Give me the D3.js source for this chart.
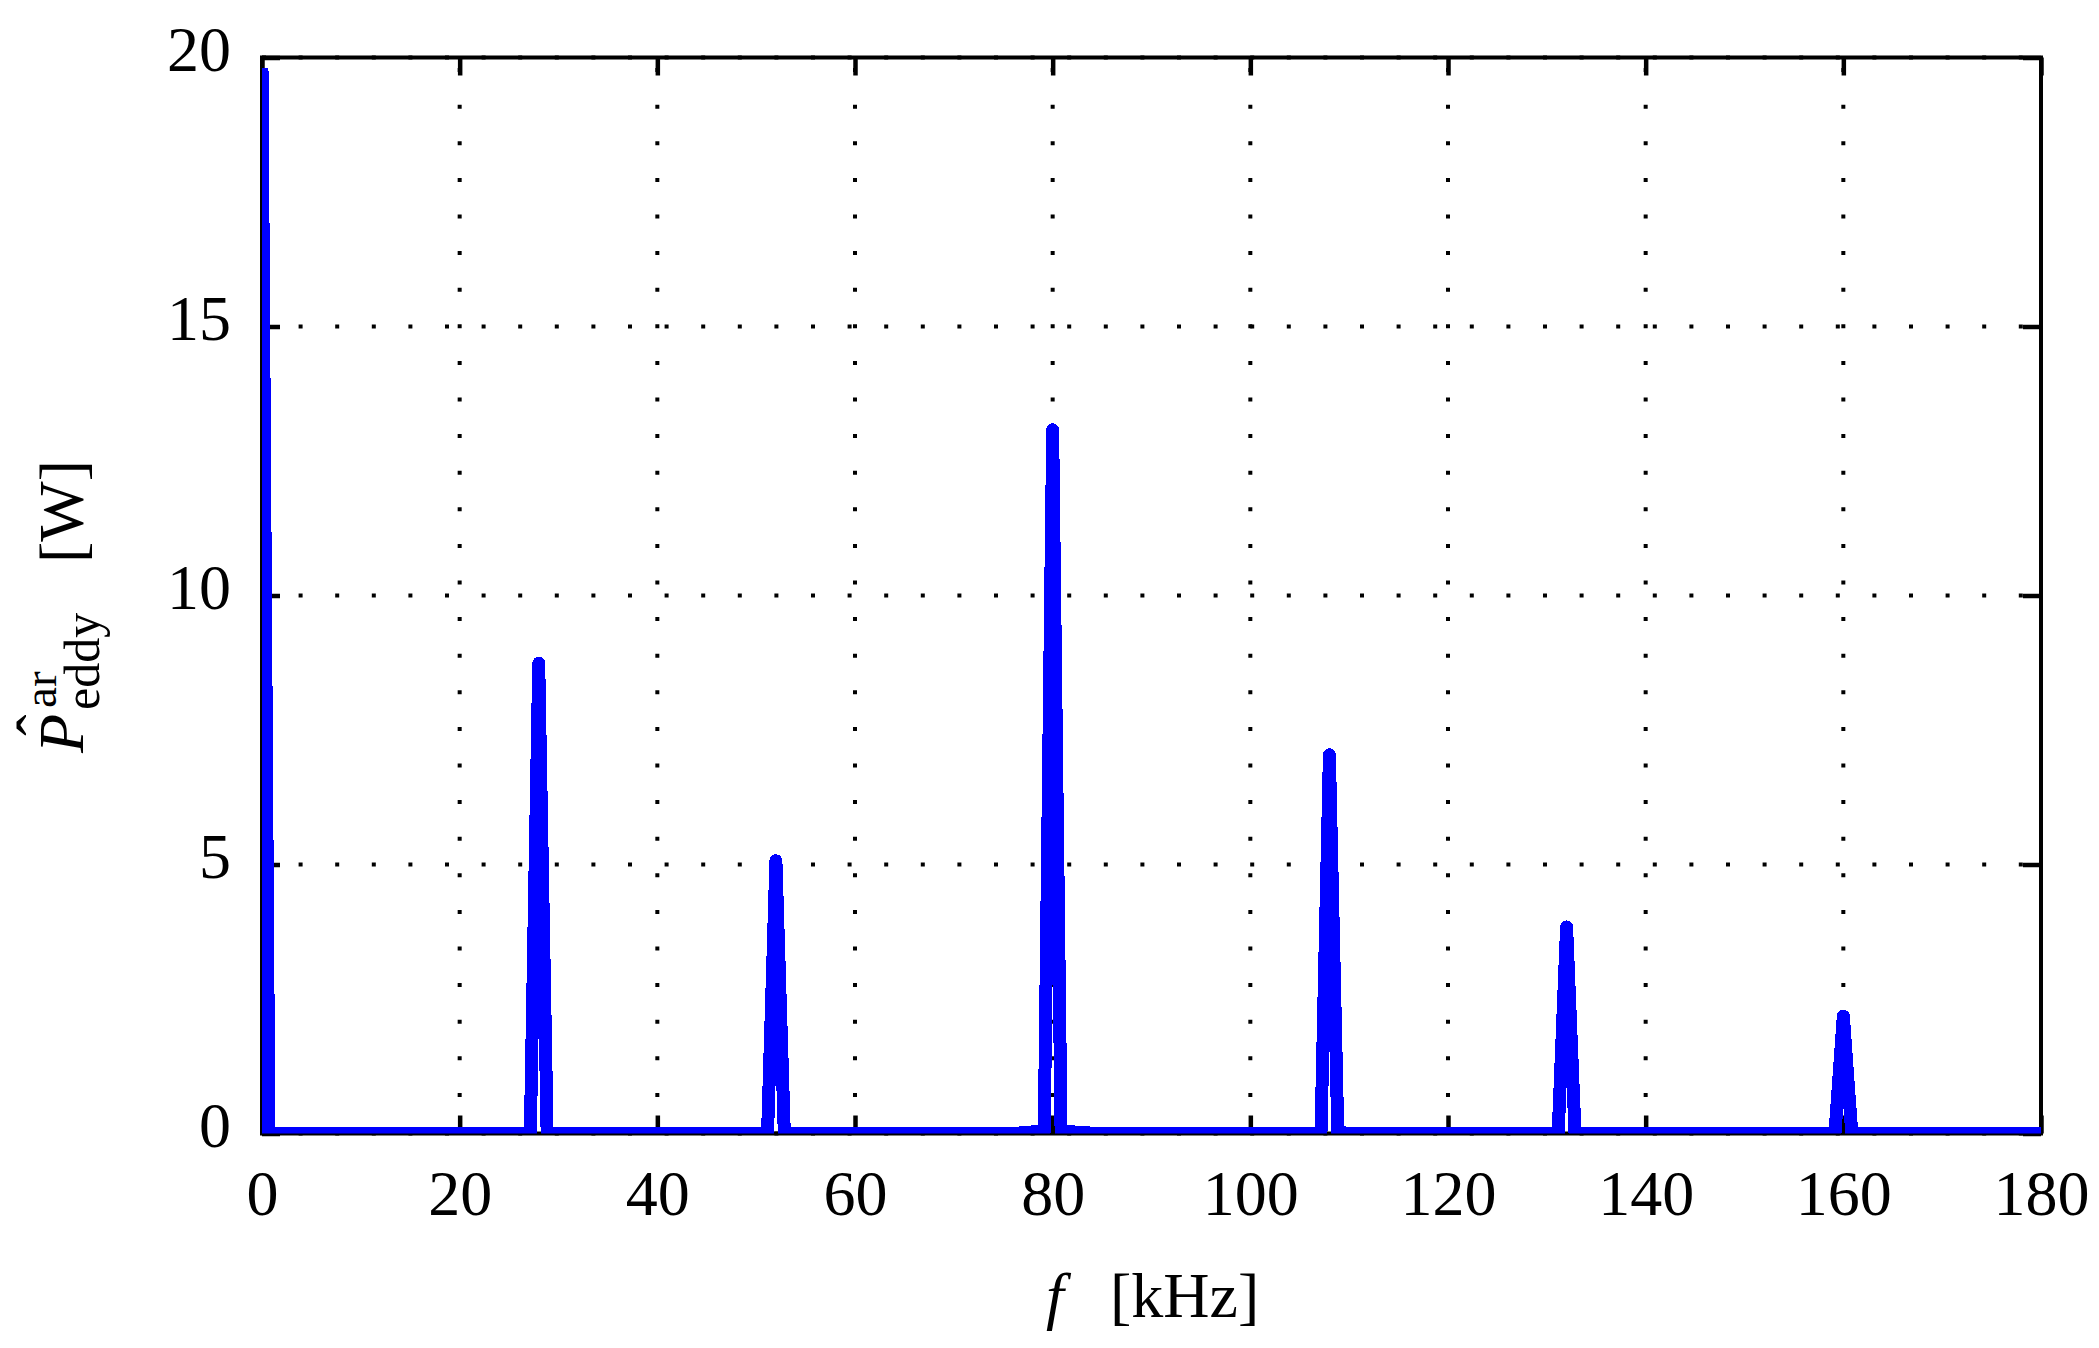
<!DOCTYPE html>
<html lang="en">
<head>
    <meta charset="UTF-8">
    <title>Eddy current loss spectrum</title>
    <script src="https://d3js.org/d3.v7.min.js"></script>
    <style>
        body {
            margin: 0;
            padding: 0;
            background: #fff;
        }
        svg {
            display: block;
            font-family: "Liberation Serif", "DejaVu Serif", serif;
        }
    </style>
</head>
<body>
    <svg width="2099" height="1348"></svg>
    <script>
        // spectrum: frequency in kHz, power in W
        const freqKHz = [0, 0.7, 27.15, 28, 28.85, 51.15, 52, 52.85, 76, 78.6, 79.15, 80, 80.85, 82, 84.5,
                         106.4, 107.15, 108, 108.85, 110, 130.6, 131.15, 132, 132.85, 133.6,
                         159.15, 160, 160.85, 162, 180];
        const powerW  = [19.8, 0, 0, 8.74, 0, 0, 5.07, 0, 0, 0.04, 0.05, 13.08, 0.05, 0.03, 0,
                         0, 0.03, 7.04, 0.03, 0, 0, 0.02, 3.84, 0.02, 0,
                         0, 2.18, 0.02, 0, 0];
        const xTicks = [0, 20, 40, 60, 80, 100, 120, 140, 160, 180];
        const yTicks = [0, 5, 10, 15, 20];

        const svg = d3.select("svg"),
              margin = {top: 57.5, right: 58, bottom: 214.5, left: 262},
              width = +svg.attr("width") - margin.left - margin.right,
              height = +svg.attr("height") - margin.top - margin.bottom,
              g = svg.append("g").attr("transform", `translate(${margin.left},${margin.top})`);

        const x = d3.scaleLinear().domain([0, 180]).range([0, width]);
        const y = d3.scaleLinear().domain([0, 20]).range([height, 0]);

        // dotted grid
        const dots = "4,32.6";
        g.append("g").selectAll("line").data(xTicks).join("line")
         .attr("x1", d => x(d)).attr("x2", d => x(d))
         .attr("y1", height).attr("y2", 0)
         .attr("stroke", "#000").attr("stroke-width", 4)
         .attr("stroke-dasharray", dots);
        g.append("g").selectAll("line").data(yTicks).join("line")
         .attr("x1", 0).attr("x2", width)
         .attr("y1", d => y(d)).attr("y2", d => y(d))
         .attr("stroke", "#000").attr("stroke-width", 4)
         .attr("stroke-dasharray", dots);

        // axes with inward ticks on all four sides
        const tick = 18;
        const xb = g.append("g").attr("transform", `translate(0,${height})`)
         .call(d3.axisBottom(x).tickValues(xTicks).tickSizeInner(-tick).tickSizeOuter(0).tickPadding(36));
        const xt = g.append("g")
         .call(d3.axisTop(x).tickValues(xTicks).tickSizeInner(-tick).tickSizeOuter(0).tickFormat(""));
        const yl = g.append("g")
         .call(d3.axisLeft(y).tickValues(yTicks).tickSizeInner(-tick).tickSizeOuter(0).tickPadding(31));
        const yr = g.append("g").attr("transform", `translate(${width},0)`)
         .call(d3.axisRight(y).tickValues(yTicks).tickSizeInner(-tick).tickSizeOuter(0).tickFormat(""));

        [xb, xt, yl, yr].forEach(a => {
            a.select(".domain").remove();
            a.selectAll(".tick line").attr("stroke", "#000").attr("stroke-width", 4.5);
            a.selectAll(".tick text")
             .attr("fill", "#000")
             .style("font-family", "'Liberation Serif', serif")
             .style("font-size", "64px");
        });
        yl.selectAll(".tick text").attr("dy", "0.21em");

        // frame
        g.append("rect")
         .attr("width", width).attr("height", height)
         .attr("fill", "none").attr("stroke", "#000").attr("stroke-width", 4);

        // the spectrum, clipped to the plot area
        svg.append("clipPath").attr("id", "plot-area")
           .append("rect").attr("width", width).attr("height", height);

        const line = d3.line().x((d, i) => x(freqKHz[i])).y(d => y(d));
        g.append("path")
         .datum(powerW)
         .attr("clip-path", "url(#plot-area)")
         .attr("fill", "none")
         .attr("stroke", "#0000ff")
         .attr("stroke-width", 13)
         .attr("stroke-linejoin", "round")
         .attr("stroke-linecap", "butt")
         .attr("shape-rendering", "crispEdges")
         .attr("d", line);

        // x label: f [kHz]
        svg.append("text")
           .attr("x", 1046).attr("y", 1317)
           .style("font-size", "64px").style("font-style", "italic")
           .text("f");
        svg.append("text")
           .attr("x", 1110).attr("y", 1317)
           .style("font-size", "64px")
           .text("[kHz]");

        // y label: P with hat, superscript "ar" and subscript "eddy", then [W]
        const yLab = svg.append("g").attr("transform", "translate(83,753) rotate(-90)");
        const P = yLab.append("text")
           .attr("x", 0).attr("y", 0)
           .style("font-size", "64px").style("font-style", "italic")
           .text("P");
        const wP = P.node().getComputedTextLength();
        yLab.append("text")
           .attr("x", 28).attr("y", -22)
           .attr("text-anchor", "middle")
           .style("font-size", "64px")
           .text("ˆ");
        yLab.append("text")
           .attr("x", wP + 6).attr("y", -27)
           .style("font-size", "47px")
           .text("ar");
        yLab.append("text")
           .attr("x", wP + 4).attr("y", 16)
           .style("font-size", "50px")
           .text("eddy");
        yLab.append("text")
           .attr("x", 293).attr("y", 0)
           .attr("text-anchor", "end")
           .style("font-size", "64px")
           .text("[W]");
    </script>
</body>
</html>
